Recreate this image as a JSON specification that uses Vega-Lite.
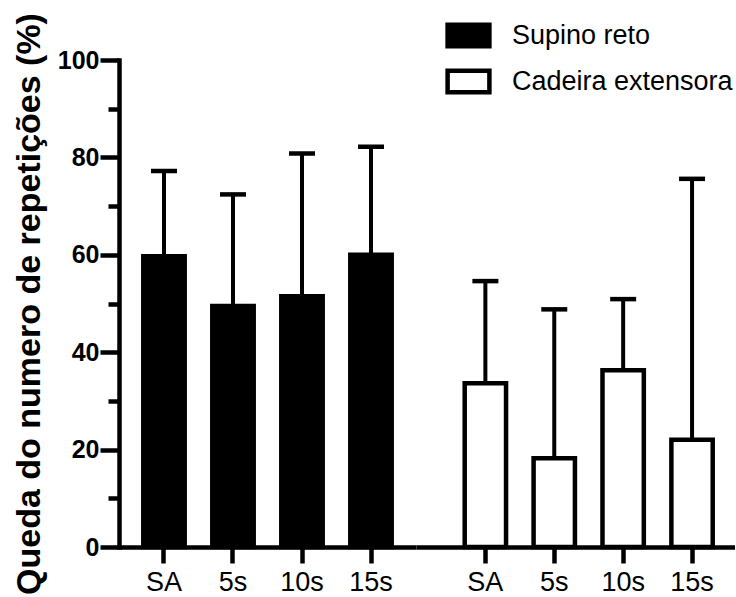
{
  "$schema": "https://vega.github.io/schema/vega-lite/v6.json",
  "background": "white",
  "padding": {"left": 12, "top": 12, "right": 0, "bottom": 0},
  "spacing": 0,
  "bounds": "flush",
  "datasets": {
    "d": [
      {"exercise": "Supino reto", "condition": "SA", "value": 59.7, "upper": 77.2},
      {"exercise": "Supino reto", "condition": "5s", "value": 49.5, "upper": 72.4},
      {"exercise": "Supino reto", "condition": "10s", "value": 51.5, "upper": 80.8},
      {"exercise": "Supino reto", "condition": "15s", "value": 60.0, "upper": 82.2},
      {"exercise": "Cadeira extensora", "condition": "SA", "value": 33.6, "upper": 54.6},
      {"exercise": "Cadeira extensora", "condition": "5s", "value": 18.2, "upper": 48.8},
      {"exercise": "Cadeira extensora", "condition": "10s", "value": 36.3, "upper": 50.9},
      {"exercise": "Cadeira extensora", "condition": "15s", "value": 22.0, "upper": 75.6}
    ]
  },
  "resolve": {"scale": {"x": "independent", "y": "shared", "fill": "shared"}},
  "hconcat": [
    {
      "width": 297,
      "height": 487,
      "data": {"name": "d"},
      "transform": [{"filter": "datum.exercise === 'Supino reto'"}],
      "encoding": {
        "x": {
          "field": "condition", "type": "nominal", "sort": ["SA", "5s", "10s", "15s"],
          "scale": {"paddingInner": 0.3333, "paddingOuter": 0.3188},
          "axis": {"title": null, "labelAngle": 0, "labelFontSize": 27, "labelFont": "Liberation Sans", "tickSize": 16, "tickWidth": 4.5, "domainWidth": 4.5, "labelPadding": 6, "domainColor": "black", "tickColor": "black", "labelColor": "black"}
        }
      },
      "resolve": {"axis": {"y": "independent"}},
      "layer": [
        {
          "mark": {"type": "bar", "width": {"band": 0.9}, "stroke": "black", "strokeWidth": 4.5},
          "encoding": {
            "y": {
              "field": "value", "type": "quantitative", "scale": {"domain": [0, 100]},
              "axis": {
                "orient": "left",
                "title": "Queda do numero de repetições (%)",
                "values": [0, 20, 40, 60, 80, 100],
                "tickSize": 19,
                "tickWidth": 4.5, "domainWidth": 4.5, "domainCap": "square",
                "labelFontSize": 25, "labelFontWeight": "bold", "labelFont": "Liberation Sans", "labelPadding": 1,
                "titleFontSize": 34, "titleFontWeight": "bold", "titleFont": "Liberation Sans", "titlePadding": 11,
                "grid": false, "domainColor": "black", "tickColor": "black", "labelColor": "black", "titleColor": "black"
              }
            },
            "fill": {
              "field": "exercise", "type": "nominal",
              "scale": {"domain": ["Supino reto", "Cadeira extensora"], "range": ["black", "white"]},
              "legend": {"title": null}
            }
          }
        },
        {
          "mark": {"type": "rule", "strokeWidth": 4, "color": "black"},
          "encoding": {
            "y": {
              "field": "value", "type": "quantitative",
              "axis": {"orient": "left", "title": null, "values": [10, 30, 50, 70, 90], "labels": false, "domain": false, "grid": false, "tickSize": 11, "tickWidth": 4.5, "tickColor": "black"}
            },
            "y2": {"field": "upper"}
          }
        },
        {
          "mark": {"type": "tick", "size": 26, "thickness": 4.5, "color": "black", "opacity": 1},
          "encoding": {"y": {"field": "upper", "type": "quantitative", "axis": null}}
        }
      ]
    },
    {
      "width": 319,
      "height": 487,
      "data": {"name": "d"},
      "transform": [{"filter": "datum.exercise === 'Cadeira extensora'"}],
      "encoding": {
        "x": {
          "field": "condition", "type": "nominal", "sort": ["SA", "5s", "10s", "15s"],
          "scale": {"paddingInner": 0.3333, "paddingOuter": 0.4819, "align": 0.699},
          "axis": {"title": null, "labelAngle": 0, "labelFontSize": 27, "labelFont": "Liberation Sans", "tickSize": 16, "tickWidth": 4.5, "domainWidth": 4.5, "labelPadding": 6, "domainColor": "black", "tickColor": "black", "labelColor": "black"}
        }
      },
      "layer": [
        {
          "mark": {"type": "bar", "width": {"band": 0.9}, "stroke": "black", "strokeWidth": 4.5},
          "encoding": {
            "y": {"field": "value", "type": "quantitative", "scale": {"domain": [0, 100]}, "axis": null},
            "fill": {"field": "exercise", "type": "nominal", "legend": {"title": null}}
          }
        },
        {
          "mark": {"type": "rule", "strokeWidth": 4, "color": "black"},
          "encoding": {"y": {"field": "value", "type": "quantitative"}, "y2": {"field": "upper"}}
        },
        {
          "mark": {"type": "tick", "size": 26, "thickness": 4.5, "color": "black", "opacity": 1},
          "encoding": {"y": {"field": "upper", "type": "quantitative"}}
        }
      ]
    }
  ],
  "config": {
    "view": {"stroke": null},
    "font": "Liberation Sans",
    "legend": {
      "orient": "none", "legendX": 328, "legendY": -46, "padding": 0,
      "labelFontSize": 27, "labelFont": "Liberation Sans", "labelColor": "black", "labelLimit": 500,
      "symbolType": "M-1.1,-0.57H1.1V0.57H-1.1Z", "symbolSize": 1444,
      "symbolStrokeColor": "black", "symbolStrokeWidth": 4.5, "symbolOpacity": 1,
      "labelOffset": 22, "rowPadding": 4
    }
  }
}
